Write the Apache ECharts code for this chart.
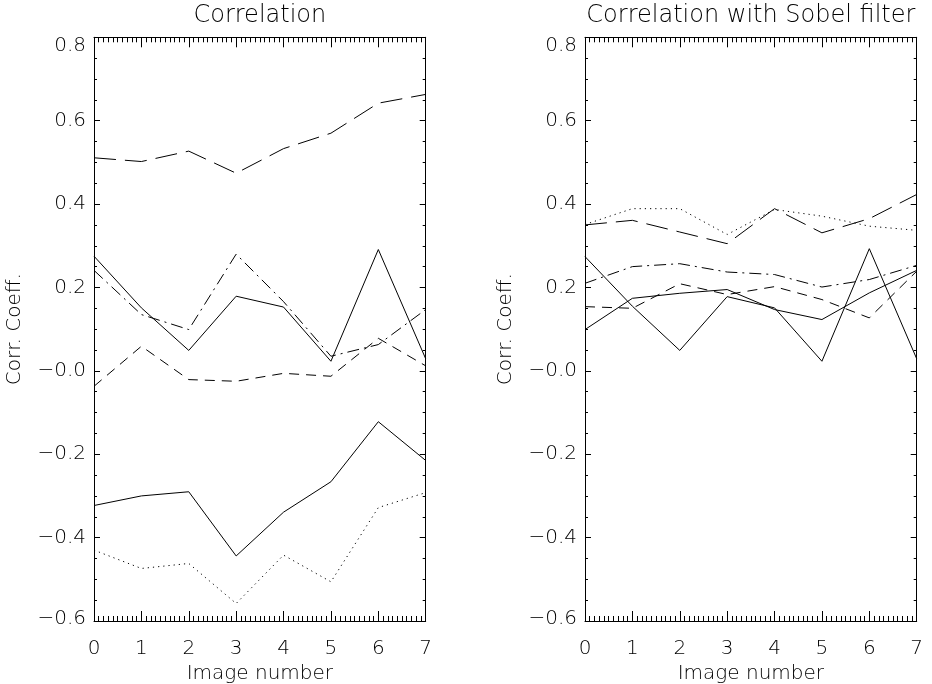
<!DOCTYPE html>
<html>
<head>
<meta charset="utf-8">
<script src="https://cdn.jsdelivr.net/npm/echarts@6/dist/echarts.min.js"></script>
<style>
html,body{margin:0;padding:0;background:#fff;}
#chart{width:932px;height:684px;}
</style>
</head>
<body>
<div id="chart"></div>
<script>
// ---- data ----
const imageNumbers = [0, 1, 2, 3, 4, 5, 6, 7];
const yTickLabels = ['\u22120.6', '\u22120.4', '\u22120.2', '\u22120.0', '0.2', '0.4', '0.6', '0.8'];
const xTickLabels = ['0', '1', '2', '3', '4', '5', '6', '7'];
const panelTitles = ['Correlation', 'Correlation with Sobel filter'];
const xAxisName = 'Image number';
const yAxisName = 'Corr. Coeff.';

// Left panel: Correlation
const corrLongDash = [0.511, 0.502, 0.527, 0.474, 0.533, 0.570, 0.642, 0.663];
const corrSolidA   = [0.275, 0.151, 0.049, 0.179, 0.153, 0.023, 0.291, 0.029];
const corrDashDot  = [0.241, 0.135, 0.099, 0.280, 0.166, 0.035, 0.063, 0.147];
const corrDash     = [-0.037, 0.059, -0.021, -0.025, -0.006, -0.013, 0.078, 0.012];
const corrSolidB   = [-0.323, -0.300, -0.290, -0.444, -0.339, -0.266, -0.122, -0.215];
const corrDotted   = [-0.430, -0.474, -0.462, -0.558, -0.442, -0.506, -0.328, -0.292];

// Right panel: Correlation with Sobel filter
const sobelDotted   = [0.351, 0.389, 0.389, 0.327, 0.387, 0.371, 0.347, 0.337];
const sobelLongDash = [0.350, 0.361, 0.333, 0.305, 0.389, 0.331, 0.365, 0.423];
const sobelDashDot  = [0.210, 0.250, 0.257, 0.237, 0.231, 0.201, 0.219, 0.253];
const sobelDash     = [0.154, 0.150, 0.209, 0.183, 0.202, 0.171, 0.127, 0.239];
const sobelSolidA   = [0.274, 0.155, 0.049, 0.178, 0.151, 0.023, 0.293, 0.029];
const sobelSolidB   = [0.099, 0.174, 0.186, 0.195, 0.147, 0.123, 0.187, 0.241];

// ---- styles ----
const FONT = 'DejaVu Sans';
const FW = 200;
const LFS = 20;
const DASH = {
  solid: 'solid',
  dash: [10, 7],
  longDash: [22, 9],
  dashDot: [12, 5, 2, 5],
  dotted: [1.2, 4]
};
const Y_MIN = -0.6, Y_MAX = 0.8, Y_STEP = 0.2;

const grids = [
  {left: 94, top: 37.3, width: 331.7, height: 583.7, outerBoundsMode: 'none', containLabel: false},
  {left: 585, top: 37.3, width: 331.7, height: 583.7, outerBoundsMode: 'none', containLabel: false}
];

function xAxes(gi) {
  const common = {
    gridIndex: gi, type: 'value', min: 0, max: 7, interval: 1,
    axisLine: {show: true, onZero: false, lineStyle: {color: '#000', width: 1}},
    axisTick: {show: true, inside: true, length: 10, lineStyle: {color: '#000', width: 1}},
    minorTick: {show: true, splitNumber: 10, length: 5, lineStyle: {color: '#000', width: 1}},
    splitLine: {show: false}, minorSplitLine: {show: false}
  };
  return [
    Object.assign({}, common, {
      position: 'bottom',
      axisLabel: {show: true, margin: 18, color: '#000', fontFamily: FONT, fontWeight: FW, fontSize: LFS,
        formatter: v => xTickLabels[Math.round(v)]},
      name: xAxisName, nameLocation: 'middle', nameGap: 40,
      nameTextStyle: {color: '#000', fontFamily: FONT, fontWeight: FW, fontSize: LFS}
    }),
    Object.assign({}, common, {position: 'top', axisLabel: {show: false}})
  ];
}

function yAxes(gi) {
  const common = {
    gridIndex: gi, type: 'value', min: Y_MIN, max: Y_MAX, interval: Y_STEP,
    axisLine: {show: true, onZero: false, lineStyle: {color: '#000', width: 1}},
    axisTick: {show: true, inside: true, length: 6, lineStyle: {color: '#000', width: 1}},
    minorTick: {show: true, splitNumber: 4, length: 3, lineStyle: {color: '#000', width: 1}},
    splitLine: {show: false}, minorSplitLine: {show: false}
  };
  const richBase = {color: '#000', fontFamily: FONT, fontWeight: FW, fontSize: LFS};
  return [
    Object.assign({}, common, {
      position: 'left',
      axisLabel: {show: true, margin: 8, color: '#000', fontFamily: FONT, fontWeight: FW, fontSize: LFS,
        formatter: v => {
          const i = Math.round((v - Y_MIN) / Y_STEP);
          const t = yTickLabels[i];
          if (i === yTickLabels.length - 1) return '{top|' + t + '}';
          if (i === 0) return '{bot|' + t + '}';
          return t;
        },
        rich: {
          top: Object.assign({padding: [16, 0, 0, 0]}, richBase),
          bot: Object.assign({padding: [0, 0, 4, 0]}, richBase)
        }
      },
      name: yAxisName, nameLocation: 'middle', nameGap: 69,
      nameTextStyle: {color: '#000', fontFamily: FONT, fontWeight: FW, fontSize: LFS}
    }),
    Object.assign({}, common, {position: 'right', axisLabel: {show: false}})
  ];
}

function mk(arr, style, gi) {
  return {
    type: 'line', xAxisIndex: gi * 2, yAxisIndex: gi * 2,
    data: imageNumbers.map((x, i) => [x, arr[i]]),
    symbol: 'none', showSymbol: false, silent: true,
    lineStyle: {color: '#000', width: 1, type: style},
    z: 3
  };
}

const series = [
  mk(corrLongDash, DASH.longDash, 0),
  mk(corrSolidA, DASH.solid, 0),
  mk(corrDashDot, DASH.dashDot, 0),
  mk(corrDash, DASH.dash, 0),
  mk(corrSolidB, DASH.solid, 0),
  mk(corrDotted, DASH.dotted, 0),
  mk(sobelDotted, DASH.dotted, 1),
  mk(sobelLongDash, DASH.longDash, 1),
  mk(sobelDashDot, DASH.dashDot, 1),
  mk(sobelDash, DASH.dash, 1),
  mk(sobelSolidA, DASH.solid, 1),
  mk(sobelSolidB, DASH.solid, 1)
];

const chart = echarts.init(document.getElementById('chart'), null, {renderer: 'canvas'});
chart.setOption({
  animation: false,
  backgroundColor: '#fff',
  title: panelTitles.map((t, i) => ({
    text: t, left: grids[i].left + grids[i].width / 2, top: 4, textAlign: 'center', padding: 0,
    textStyle: {color: '#000', fontFamily: FONT, fontWeight: FW, fontSize: 24}
  })),
  grid: grids,
  xAxis: [].concat(xAxes(0), xAxes(1)),
  yAxis: [].concat(yAxes(0), yAxes(1)),
  series: series
});
</script>
</body>
</html>
